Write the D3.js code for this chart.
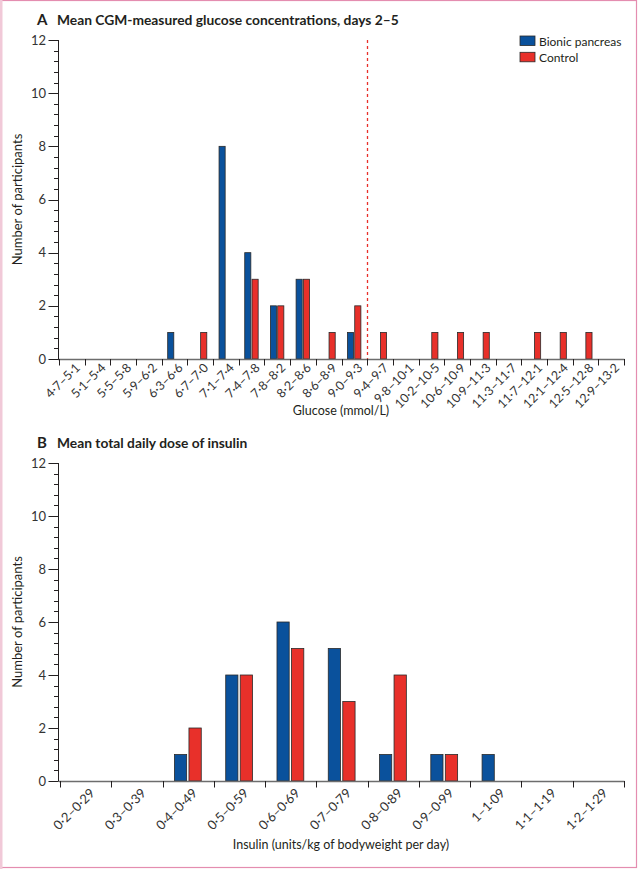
<!DOCTYPE html>
<html>
<head>
<meta charset="utf-8">
<script src="https://cdn.jsdelivr.net/npm/d3@7"></script>
<style>
  html, body { margin: 0; padding: 0; background: #fff; }
  svg { display: block; }
  text { font-family: "Lato", "Open Sans", sans-serif; fill: #231f20; }
</style>
</head>
<body>
<svg id="chart" width="638" height="869"></svg>
<script>
// ---------- DATA ----------
const glucoseBins = ["4·7–5·1","5·1–5·4","5·5–5·8","5·9–6·2","6·3–6·6","6·7–7·0","7·1–7·4","7·4–7·8","7·8–8·2","8·2–8·6","8·6–8·9","9·0–9·3","9·4–9·7","9·8–10·1","10·2–10·5","10·6–10·9","10·9–11·3","11·3–11·7","11·7–12·1","12·1–12·4","12·5–12·8","12·9–13·2"];
const glucoseBionic  = [0,0,0,0,1,0,8,4,2,3,0,1,0,0,0,0,0,0,0,0,0,0];
const glucoseControl = [0,0,0,0,0,1,0,3,2,3,1,2,1,0,1,1,1,0,1,1,1,0];
const glucoseThresholdBin = "9·4–9·7";

const insulinBins = ["0·2–0·29","0·3–0·39","0·4–0·49","0·5–0·59","0·6–0·69","0·7–0·79","0·8–0·89","0·9–0·99","1–1·09","1·1–1·19","1·2–1·29"];
const insulinBionic  = [0,0,1,4,6,5,1,1,1,0,0];
const insulinControl = [0,0,2,4,5,3,4,1,0,0,0];

const yTickValues = [0,2,4,6,8,10,12];
const yMinorStep = 0.4;
const yMax = 12;

const seriesNames = ["Bionic pancreas","Control"];
const seriesColors = ["#0a519c","#e8302a"];

// ---------- DRAW ----------
const svg = d3.select("#chart");

// frame
svg.append("rect").attr("x",0.5).attr("y",0.5).attr("width",636).attr("height",867)
  .attr("fill","none").attr("stroke","#e48db0").attr("stroke-width",1.2);
svg.append("rect").attr("x",0).attr("y",0).attr("width",2.5).attr("height",869).attr("fill","#f1c9d8");

function panel(opts) {
  const {bins, bionic, control, x0, x1, yTop, yBottom, letter, title, titleY, xTitle, xTitleY, labelSize, labelDy, threshold} = opts;
  const g = svg.append("g");
  const x = d3.scaleBand().domain(bins).range([x0, x1]).paddingInner(0).paddingOuter(0);
  const y = d3.scaleLinear().domain([0, yMax]).range([yBottom, yTop]);
  const bw = x.bandwidth();

  // threshold line
  if (threshold) {
    const tx = Math.round(x(threshold)) + 0.5;
    g.append("line").attr("x1",tx).attr("x2",tx).attr("y1",y(yMax)).attr("y2",y(0))
      .attr("stroke","#e8302a").attr("stroke-width",1.3).attr("stroke-dasharray","3,3");
  }

  // bars
  const series = [bionic, control];
  const offs = [[0.232,0.47],[0.515,0.755]];
  series.forEach((vals, si) => {
    g.append("g").selectAll("rect").data(bins.map((b,i)=>({b, v: vals[i]})).filter(d=>d.v>0))
      .join("rect")
      .attr("x", d => x(d.b) + offs[si][0]*bw)
      .attr("width", (offs[si][1]-offs[si][0])*bw)
      .attr("y", d => y(d.v))
      .attr("height", d => y(0) - y(d.v))
      .attr("fill", seriesColors[si])
      .attr("stroke", "#2a2a2a").attr("stroke-width", 0.8);
  });

  // x axis line
  g.append("line").attr("x1", x0-1).attr("x2", x1+0.5).attr("y1", y(0)+0.5).attr("y2", y(0)+0.5)
    .attr("stroke","#6d6d6d").attr("stroke-width",1.6);
  // boundary ticks
  const bounds = bins.map(b => x(b)).concat([x1]);
  g.append("g").selectAll("line").data(bounds).join("line")
    .attr("x1", d => Math.round(d)+0.5).attr("x2", d => Math.round(d)+0.5)
    .attr("y1", y(0)).attr("y2", y(0)+6.5)
    .attr("stroke","#231f20").attr("stroke-width",1);
  // labels
  g.append("g").selectAll("text").data(bins).join("text")
    .attr("transform", d => `translate(${x(d)+bw/2+labelDy[0]},${y(0)+labelDy[1]}) rotate(-45)`)
    .attr("text-anchor","end")
    .style("font-size", labelSize+"px")
    .style("fill","#333")
    .text(d => d);

  // y axis
  const ax = 58.5;
  g.append("line").attr("x1",ax).attr("x2",ax).attr("y1",y(yMax)).attr("y2",y(0)+0.5)
    .attr("stroke","#231f20").attr("stroke-width",1);
  const minor = d3.range(0, yMax + 0.001, yMinorStep).filter(v => Math.abs(v/2 - Math.round(v/2)) > 0.01);
  g.append("g").selectAll("line").data(minor).join("line")
    .attr("x1", ax-4.5).attr("x2", ax).attr("y1", d => Math.round(y(d))+0.5).attr("y2", d => Math.round(y(d))+0.5)
    .attr("stroke","#231f20").attr("stroke-width",1);
  g.append("g").selectAll("line").data(yTickValues).join("line")
    .attr("x1", ax-10).attr("x2", ax).attr("y1", d => Math.round(y(d))+0.5).attr("y2", d => Math.round(y(d))+0.5)
    .attr("stroke","#231f20").attr("stroke-width",1);
  g.append("g").selectAll("text").data(yTickValues).join("text")
    .attr("x", ax-12.5).attr("y", d => y(d)).attr("dy","0.35em")
    .attr("text-anchor","end").style("font-size","13px").style("fill","#333").text(d => d);

  // y title
  g.append("text").attr("transform", `translate(22,${(y(0)+y(yMax))/2}) rotate(-90)`)
    .attr("text-anchor","middle").style("font-size","13px").text("Number of participants");

  // x title
  g.append("text").attr("x", 341).attr("y", xTitleY).attr("text-anchor","middle")
    .style("font-size","12.5px").text(xTitle);

  // panel title
  g.append("text").attr("x", 37).attr("y", titleY).style("font-size","15px").style("font-weight","700").text(letter);
  g.append("text").attr("x", 57).attr("y", titleY).style("font-size","13.8px").style("font-weight","700").text(title);
}

panel({bins: glucoseBins, bionic: glucoseBionic, control: glucoseControl,
  x0: 59, x1: 624, yTop: 40, yBottom: 359, letter: "A",
  title: "Mean CGM-measured glucose concentrations, days 2–5", titleY: 25,
  xTitle: "Glucose (mmol/L)", xTitleY: 415, labelSize: 12.5, labelDy: [9, 9.5],
  threshold: glucoseThresholdBin});

panel({bins: insulinBins, bionic: insulinBionic, control: insulinControl,
  x0: 60, x1: 624, yTop: 463, yBottom: 781, letter: "B",
  title: "Mean total daily dose of insulin", titleY: 448,
  xTitle: "Insulin (units/kg of bodyweight per day)", xTitleY: 849, labelSize: 13, labelDy: [10, 13],
  threshold: null});

// legend
const leg = svg.append("g");
seriesNames.forEach((n, i) => {
  leg.append("rect").attr("x", 520).attr("y", 36 + i*16.3).attr("width", 15).attr("height", 9.5)
    .attr("fill", seriesColors[i]).attr("stroke","#2a2a2a").attr("stroke-width",0.8);
  leg.append("text").attr("x", 539).attr("y", 45.5 + i*16.3).style("font-size","12px").text(n);
});
</script>
</body>
</html>
